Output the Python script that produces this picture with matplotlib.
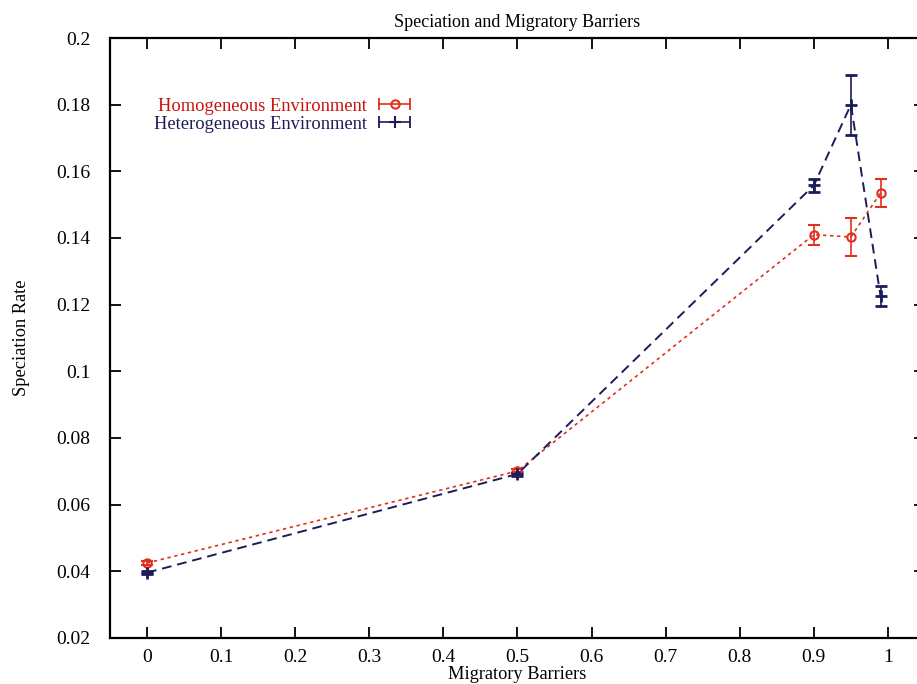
import matplotlib
matplotlib.use("Agg")
import matplotlib.pyplot as plt
from matplotlib.lines import Line2D
from matplotlib.legend_handler import HandlerLine2D

plt.rcParams['font.family'] = ['Liberation Serif', 'DejaVu Serif']

barriers = [0.0, 0.5, 0.9, 0.95, 0.99]
homo_rate = [0.0425, 0.0701, 0.1410, 0.1403, 0.1535]
homo_err = [0.0005, 0.0006, 0.0030, 0.0057, 0.0043]
hetero_rate = [0.0396, 0.0692, 0.1558, 0.1800, 0.1225]
hetero_err = [0.0004, 0.0005, 0.0020, 0.0090, 0.0030]

xticks = [0, 0.1, 0.2, 0.3, 0.4, 0.5, 0.6, 0.7, 0.8, 0.9, 1]
xticklabels = ['0', '0.1', '0.2', '0.3', '0.4', '0.5', '0.6', '0.7', '0.8', '0.9', '1']
yticks = [0.02, 0.04, 0.06, 0.08, 0.1, 0.12, 0.14, 0.16, 0.18, 0.2]
yticklabels = ['0.02', '0.04', '0.06', '0.08', '0.1', '0.12', '0.14', '0.16', '0.18', '0.2']

red = '#e0301e'
red_text = '#c8120c'
blue = '#1c1c5a'

W, H = 917, 684
fig = plt.figure(figsize=(W / 100, H / 100), dpi=100)
left_px, right_px = 110, 925
top_px, bot_px = 38, 638
ax = fig.add_axes([left_px / W, 1 - bot_px / H, (right_px - left_px) / W, (bot_px - top_px) / H])

ax.errorbar(barriers, homo_rate, yerr=homo_err, color=red, ls=(0, (2, 2.2)), lw=1.2,
            marker='o', ms=6, mfc='none', mec=red, mew=1.5, capsize=4, elinewidth=1.2, ecolor=red)
ax.errorbar(barriers, hetero_rate, yerr=hetero_err, color=blue, ls=(0, (5, 3)), lw=1.4,
            marker='+', ms=9, mew=2.0, mec=blue, capsize=4, elinewidth=1.2, ecolor=blue)

ax.set_xlim(-0.05, 1.05)
ax.set_ylim(0.02, 0.2)
ax.set_xticks(xticks)
ax.set_xticklabels(xticklabels)
ax.set_yticks(yticks)
ax.set_yticklabels(yticklabels)
ax.tick_params(direction='in', length=8, width=1.3, top=True, right=True, labelsize=14)
ax.tick_params(axis='x', pad=8)
ax.tick_params(axis='y', pad=14)
for s in ax.spines.values():
    s.set_linewidth(1.6)

ax.set_title('Speciation and Migratory Barriers', fontsize=13, pad=8)
ax.set_xlabel('Migratory Barriers', fontsize=13.2, labelpad=0)
ax.set_ylabel('Speciation Rate', fontsize=13.2, labelpad=19)

# legend entries: bar with end caps plus centre marker
cap1 = Line2D([], [], color=red, marker='|', ms=8, mew=1.3, lw=1.2)
mk1 = Line2D([], [], color=red, marker='o', ms=6, mfc='none', mew=1.5, lw=0)
cap2 = Line2D([], [], color=blue, marker='|', ms=8, mew=1.3, lw=1.2)
mk2 = Line2D([], [], color=blue, marker='+', ms=8, mew=1.5, lw=0)
hm = {mk1: HandlerLine2D(numpoints=1), mk2: HandlerLine2D(numpoints=1),
      cap1: HandlerLine2D(numpoints=2), cap2: HandlerLine2D(numpoints=2)}
leg = ax.legend([(cap1, mk1), (cap2, mk2)], ['Homogeneous Environment', 'Heterogeneous Environment'],
                loc='upper left', bbox_to_anchor=(0.045, 0.913), frameon=False, fontsize=13.3,
                markerfirst=False, handlelength=2.3, handletextpad=0.35, labelspacing=0.05,
                borderaxespad=0, handler_map=hm)
for t, c in zip(leg.get_texts(), [red_text, blue]):
    t.set_color(c)

fig.savefig('out.png', dpi=100)
